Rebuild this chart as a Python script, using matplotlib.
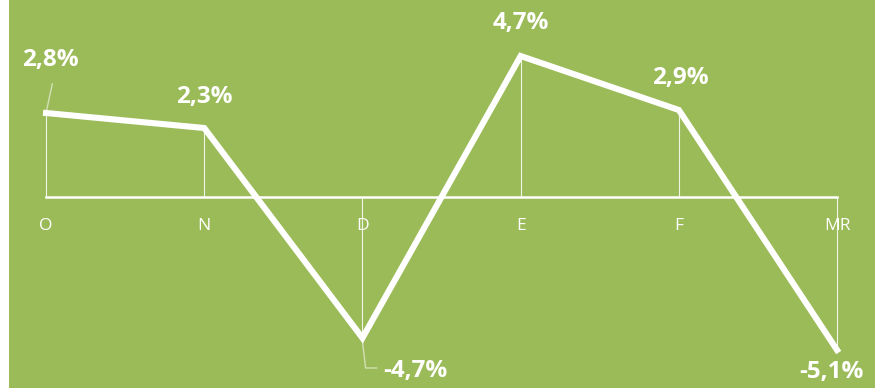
import matplotlib
matplotlib.use("Agg")
import matplotlib.pyplot as plt
import matplotlib.patches as mpatches

months = ["O", "N", "D", "E", "F", "MR"]
values = [2.8, 2.3, -4.7, 4.7, 2.9, -5.1]
labels = ["2,8%", "2,3%", "-4,7%", "4,7%", "2,9%", "-5,1%"]

bg = "#9bbb59"
plt.rcParams["font.family"] = ["Open Sans", "DejaVu Sans"]

fig = plt.figure(figsize=(8.75, 3.88), dpi=100)
fig.patch.set_facecolor("white")
ax = fig.add_axes([0, 0, 1, 1])
ax.set_xlim(-0.291, 5.240)
ax.set_ylim(-6.367, 6.567)
ax.axis("off")

# green chart area with a thin white strip on the left
ax.add_patch(mpatches.Rectangle((9 / 875, 0), 1, 1, transform=ax.transAxes,
                                facecolor=bg, edgecolor="none", zorder=0))

x = list(range(len(values)))

# zero axis
ax.plot([x[0], x[-1]], [0, 0], color="white", lw=1.8, zorder=2)

# drop lines
for xi, v in zip(x, values):
    ax.plot([xi, xi], [0, v], color="white", lw=0.8, alpha=0.85, zorder=2)

ax.plot(x, values, color="white", lw=4.4, solid_joinstyle="miter", zorder=3)

# category labels below axis
for xi, m in zip(x, months):
    ax.text(xi, -0.97, m, color="white", fontsize=12.5, ha="center", va="center", zorder=4)

# data labels (offsets in points); last one nudged up so it stays inside
offsets = [(3, 38), (0, 22), (38, -24), (0, 24), (1, 23), (-4, -15.5)]
for xi, v, lab, (dx, dy) in zip(x, values, labels, offsets):
    ax.annotate(lab, (xi, v), xytext=(dx, dy), textcoords="offset points",
                color="white", fontsize=17.5, fontweight="bold",
                ha="center", va="center", zorder=5)

# leader lines
lc = (1, 1, 1, 0.55)
ax.annotate("", (x[0], values[0]), xytext=(x[0] + 0.04, values[0] + 0.98),
            arrowprops=dict(arrowstyle="-", color=lc, lw=1.0, shrinkA=0, shrinkB=2))
ax.plot([x[2], x[2] + 0.02, x[2] + 0.09], [values[2] - 0.1, values[2] - 1.0, values[2] - 1.0],
        color=lc, lw=1.0, zorder=2)

fig.savefig("out.png", dpi=100, facecolor=fig.get_facecolor())
